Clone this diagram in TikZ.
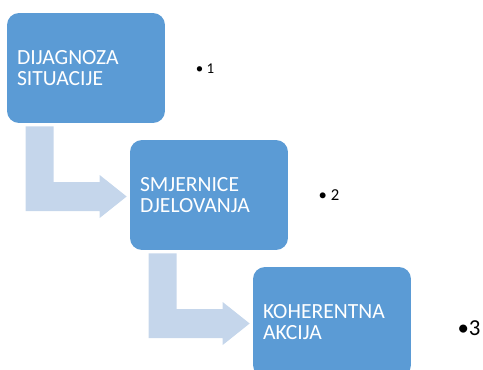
\documentclass[tikz,border=0pt]{standalone}
\usepackage{fontspec}
\setmainfont{Carlito}
\usepackage{xcolor}
\usetikzlibrary{calc}
\definecolor{boxblue}{HTML}{5B9BD5}
\definecolor{arrowblue}{HTML}{C5D6EB}
\tikzset{
  stage box/.style = {fill=boxblue, rounded corners=0.24cm, text=white,
    minimum width=3.16cm, minimum height=2.2cm, inner xsep=0.2cm,
    text width=2.76cm, align=left, font=\fontsize{12.3}{12}\selectfont}
}
\tikzset{
  bent flow/.style = {fill=arrowblue}
}
\tikzset{
  every node/.style = {font = \fontsize{8.5}{10}\selectfont}
}
\newcommand{\bentflow}[2]{
  \coordinate (top) at ($(#1.south west)+(19,3)$);
  \coordinate (tip) at ($(#2.west)+(-3,1.5)$);
  \fill[bent flow] (top) -- ++(28,0) |- ($(tip)+(-27,-14.5)$)
    -- ++(0,-7) -- (tip) -- ++(-27,21.5) -- ++(0,-7) -| (top) -- cycle;
}

\begin{document}
\begin{tikzpicture}[x=0.02cm, y=-0.02cm]
  \useasboundingbox (0,0) rectangle (483,369);
  \clip (0,0) rectangle (483,369);

  \node[stage box] (diag) at (86,68) {DIJAGNOZA\\SITUACIJE};
  \node[stage box] (smj) at (209,195) {SMJERNICE\\DJELOVANJA};
  \node[stage box] (koh) at (332,322) {KOHERENTNA\\AKCIJA};

  \bentflow{diag}{smj}
  \bentflow{smj}{koh}

  \node (b1) at (205,69) {• 1};
  \node[font=\fontsize{9.5}{11}\selectfont] (b2) at (329,195) {• 2};
  \node[font=\fontsize{13}{15}\selectfont] (b3) at (469,328) {•3};
\end{tikzpicture}
\end{document}
